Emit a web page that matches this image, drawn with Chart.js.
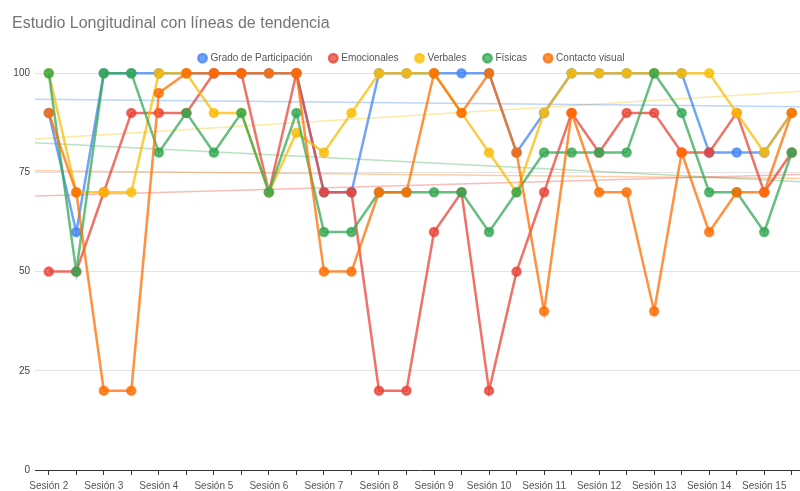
<!DOCTYPE html>
<html lang="es">
<head>
    <meta charset="UTF-8">
    <title>Estudio Longitudinal con líneas de tendencia</title>
    <script src="https://cdn.jsdelivr.net/npm/chart.js"></script>
    <style>
        body { margin: 0; overflow: hidden; background: #fff; }
        #wrap { width: 812px; height: 491px; }
    </style>
</head>
<body>
    <div id="wrap"><canvas id="chart"></canvas></div>

    <script>
        // dos mediciones por sesión
        const sesiones = [
            'Sesión 2', 'Sesión 2', 'Sesión 3', 'Sesión 3', 'Sesión 4', 'Sesión 4', 'Sesión 5', 'Sesión 5',
            'Sesión 6', 'Sesión 6', 'Sesión 7', 'Sesión 7', 'Sesión 8', 'Sesión 8', 'Sesión 9', 'Sesión 9',
            'Sesión 10', 'Sesión 10', 'Sesión 11', 'Sesión 11', 'Sesión 12', 'Sesión 12', 'Sesión 13', 'Sesión 13',
            'Sesión 14', 'Sesión 14', 'Sesión 15', 'Sesión 15'
        ];

        const participacion = [90, 60, 100, 100, 100, 100, 100, 100, 100, 100, 70, 70, 100, 100, 100, 100, 100, 80, 90, 100, 100, 100, 100, 100, 80, 80, 80, 90];
        const emocionales   = [50, 50, 70, 90, 90, 90, 100, 100, 70, 100, 70, 70, 20, 20, 60, 70, 20, 50, 70, 90, 80, 90, 90, 80, 80, 90, 70, 80];
        const verbales      = [100, 70, 70, 70, 100, 100, 90, 90, 70, 85, 80, 90, 100, 100, 100, 90, 80, 70, 90, 100, 100, 100, 100, 100, 100, 90, 80, 90];
        const fisicas       = [100, 50, 100, 100, 80, 90, 80, 90, 70, 90, 60, 60, 70, 70, 70, 70, 60, 70, 80, 80, 80, 80, 100, 90, 70, 70, 60, 80];
        const contacto      = [90, 70, 20, 20, 95, 100, 100, 100, 100, 100, 50, 50, 70, 70, 100, 90, 100, 80, 40, 90, 70, 70, 40, 80, 60, 70, 70, 90];

        const yTicks = [0, 25, 50, 75, 100];

        const series = [
            { label: 'Grado de Participación', data: participacion, rgb: '66, 133, 244' },
            { label: 'Emocionales', data: emocionales, rgb: '234, 67, 53' },
            { label: 'Verbales', data: verbales, rgb: '251, 188, 4' },
            { label: 'Físicas', data: fisicas, rgb: '52, 168, 83' },
            { label: 'Contacto visual', data: contacto, rgb: '255, 109, 1' }
        ];

        // recta de mínimos cuadrados sobre el índice de la sesión
        function tendencia(valores) {
            const n = valores.length;
            let sx = 0, sy = 0, sxy = 0, sxx = 0;
            valores.forEach((v, i) => { sx += i; sy += v; sxy += i * v; sxx += i * i; });
            const m = (n * sxy - sx * sy) / (n * sxx - sx * sx);
            const b = (sy - m * sx) / n;
            return [{ x: -0.5, y: b - 0.5 * m }, { x: n - 0.5, y: b + (n - 0.5) * m }];
        }

        const datasets = [];
        series.forEach((s, i) => {
            datasets.push({
                label: s.label,
                data: s.data,
                borderColor: 'rgba(' + s.rgb + ', 0.75)',
                backgroundColor: 'rgba(' + s.rgb + ', 0.75)',
                borderWidth: 2.5,
                pointRadius: 4,
                pointHoverRadius: 4,
                order: 5 - i,
                clip: false
            });
        });
        series.forEach((s) => {
            datasets.push({
                label: s.label + ' (tendencia)',
                data: tendencia(s.data),
                xAxisID: 'xt',
                borderColor: 'rgba(' + s.rgb + ', 0.35)',
                borderWidth: 1.5,
                pointRadius: 0,
                order: 10
            });
        });

        const fuente = 'Liberation Sans, Arial, sans-serif';

        new Chart(document.getElementById('chart'), {
            type: 'line',
            data: { labels: sesiones, datasets: datasets },
            options: {
                responsive: true,
                maintainAspectRatio: false,
                animation: false,
                layout: { padding: { left: 12, right: 0, top: 0, bottom: 0 } },
                plugins: {
                    title: {
                        display: true,
                        text: 'Estudio Longitudinal con líneas de tendencia',
                        align: 'start',
                        color: '#757575',
                        font: { family: fuente, size: 16, weight: 'normal' },
                        padding: { top: 14, bottom: 2 }
                    },
                    legend: {
                        labels: {
                            usePointStyle: true,
                            pointStyle: 'circle',
                            boxWidth: 6,
                            boxHeight: 6,
                            padding: 18,
                            color: '#555',
                            font: { family: fuente, size: 10 },
                            filter: item => item.datasetIndex < series.length,
                            sort: (a, b) => a.datasetIndex - b.datasetIndex
                        }
                    },
                    tooltip: { enabled: false }
                },
                scales: {
                    x: {
                        offset: true,
                        grid: { drawOnChartArea: false, drawTicks: true, tickLength: 5, color: '#333' },
                        border: { display: true, color: '#333' },
                        ticks: {
                            autoSkip: false,
                            maxRotation: 0,
                            padding: 5,
                            color: '#555',
                            font: { family: fuente, size: 10 },
                            callback: function (val, i) { return i % 2 === 0 ? this.getLabelForValue(val) : ''; }
                        },
                        afterFit: scale => { scale.height = 21; }
                    },
                    xt: {
                        type: 'linear',
                        display: false,
                        min: -0.5,
                        max: sesiones.length - 0.5
                    },
                    y: {
                        min: 0,
                        max: 100,
                        border: { display: false },
                        grid: {
                            drawTicks: false,
                            color: ctx => ctx.tick && ctx.tick.value === 0 ? 'rgba(0,0,0,0)' : '#e3e3e3'
                        },
                        afterBuildTicks: scale => { scale.ticks = yTicks.map(v => ({ value: v })); },
                        ticks: {
                            padding: 5,
                            color: '#444',
                            font: { family: fuente, size: 10 }
                        },
                        afterFit: scale => { scale.width = 23; }
                    }
                }
            }
        });
    </script>
</body>
</html>
